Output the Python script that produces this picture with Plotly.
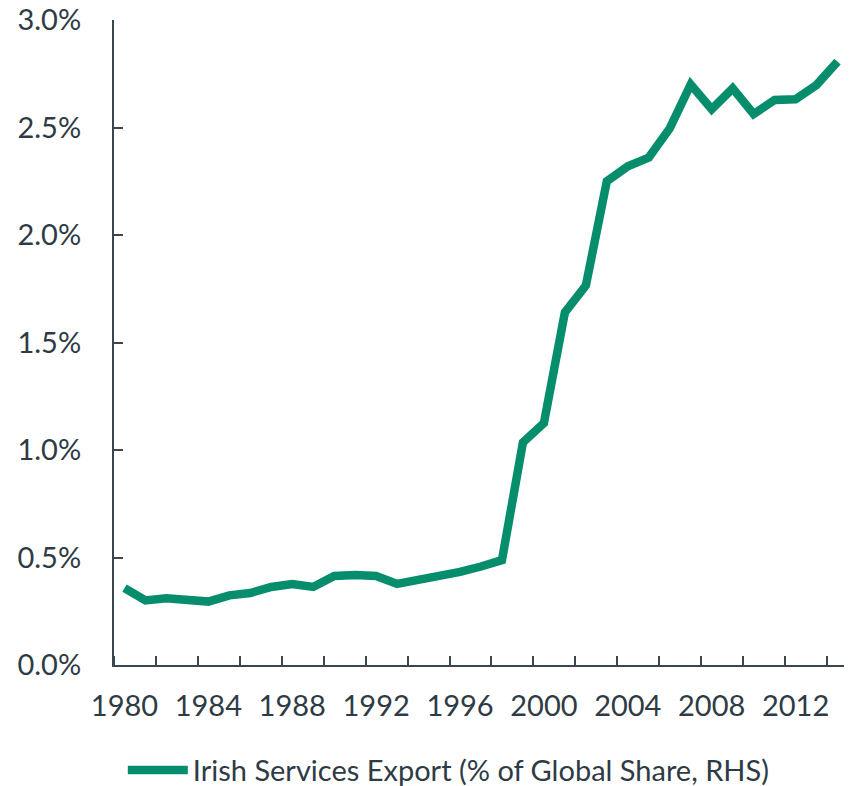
import plotly.graph_objects as go

years = list(range(1980, 2015))
share = [0.358, 0.300, 0.310, 0.307, 0.295, 0.324, 0.335, 0.363, 0.377, 0.363,
         0.414, 0.419, 0.414, 0.377, 0.395, 0.405, 0.433, 0.458, 0.488, 1.035,
         1.125, 1.640, 1.765, 2.250, 2.320, 2.360, 2.496, 2.700, 2.585, 2.682,
         2.563, 2.628, 2.631, 2.698, 2.806]
share_frac = [v / 100 for v in share]
label_years = [1980, 1984, 1988, 1992, 1996, 2000, 2004, 2008, 2012]
minor_ticks = [y + 0.5 for y in range(1979, 2014, 2)]
y_ticks = [0, 0.005, 0.01, 0.015, 0.02, 0.025, 0.03]
series_name = "Irish Services Export (% of Global Share, RHS)"

TEXT = "#2E3B45"
AXIS = "#3A4650"
GREEN = "#068E6C"
FONT = "Lato"
FS = 29

fig = go.Figure()
fig.add_trace(go.Scatter(x=years, y=share_frac, mode="lines", name=series_name,
                         line=dict(color=GREEN, width=8.5), cliponaxis=False))

# page has an 8px body margin, so the figure is sized/offset to compensate
fig.update_layout(
    width=844, height=778,
    margin=dict(l=106, r=4, t=12, b=121, autoexpand=False),
    plot_bgcolor="white", paper_bgcolor="white",
    font=dict(family=FONT, color=TEXT, size=FS),
    showlegend=True,
    legend=dict(orientation="h", x=0.012, xanchor="left", y=-0.163, yanchor="middle",
                font=dict(size=FS, color=TEXT, family=FONT), itemwidth=60,
                bgcolor="rgba(0,0,0,0)"),
)
fig.update_xaxes(
    range=[1979.5, 2014.5], tickmode="array", tickvals=label_years,
    ticktext=[str(y) for y in label_years], ticks="", ticklabelstandoff=14,
    showline=True, linecolor=AXIS, linewidth=2, showgrid=False, zeroline=False,
    automargin=False, ticklabeloverflow="allow",
    tickfont=dict(size=FS, color=TEXT, family=FONT),
    minor=dict(tickmode="array", tickvals=minor_ticks, ticks="inside", ticklen=9,
               tickwidth=2, tickcolor=AXIS, showgrid=False),
)
fig.update_yaxes(
    range=[0, 0.03], tickmode="array", tickvals=y_ticks, tickformat=".1%",
    ticks="inside", ticklen=9, tickwidth=2, tickcolor=AXIS, ticklabelstandoff=25,
    showline=True, linecolor=AXIS, linewidth=2, showgrid=False, zeroline=False,
    automargin=False, ticklabeloverflow="allow",
    tickfont=dict(size=FS, color=TEXT, family=FONT),
)

fig.write_html("out.html")
